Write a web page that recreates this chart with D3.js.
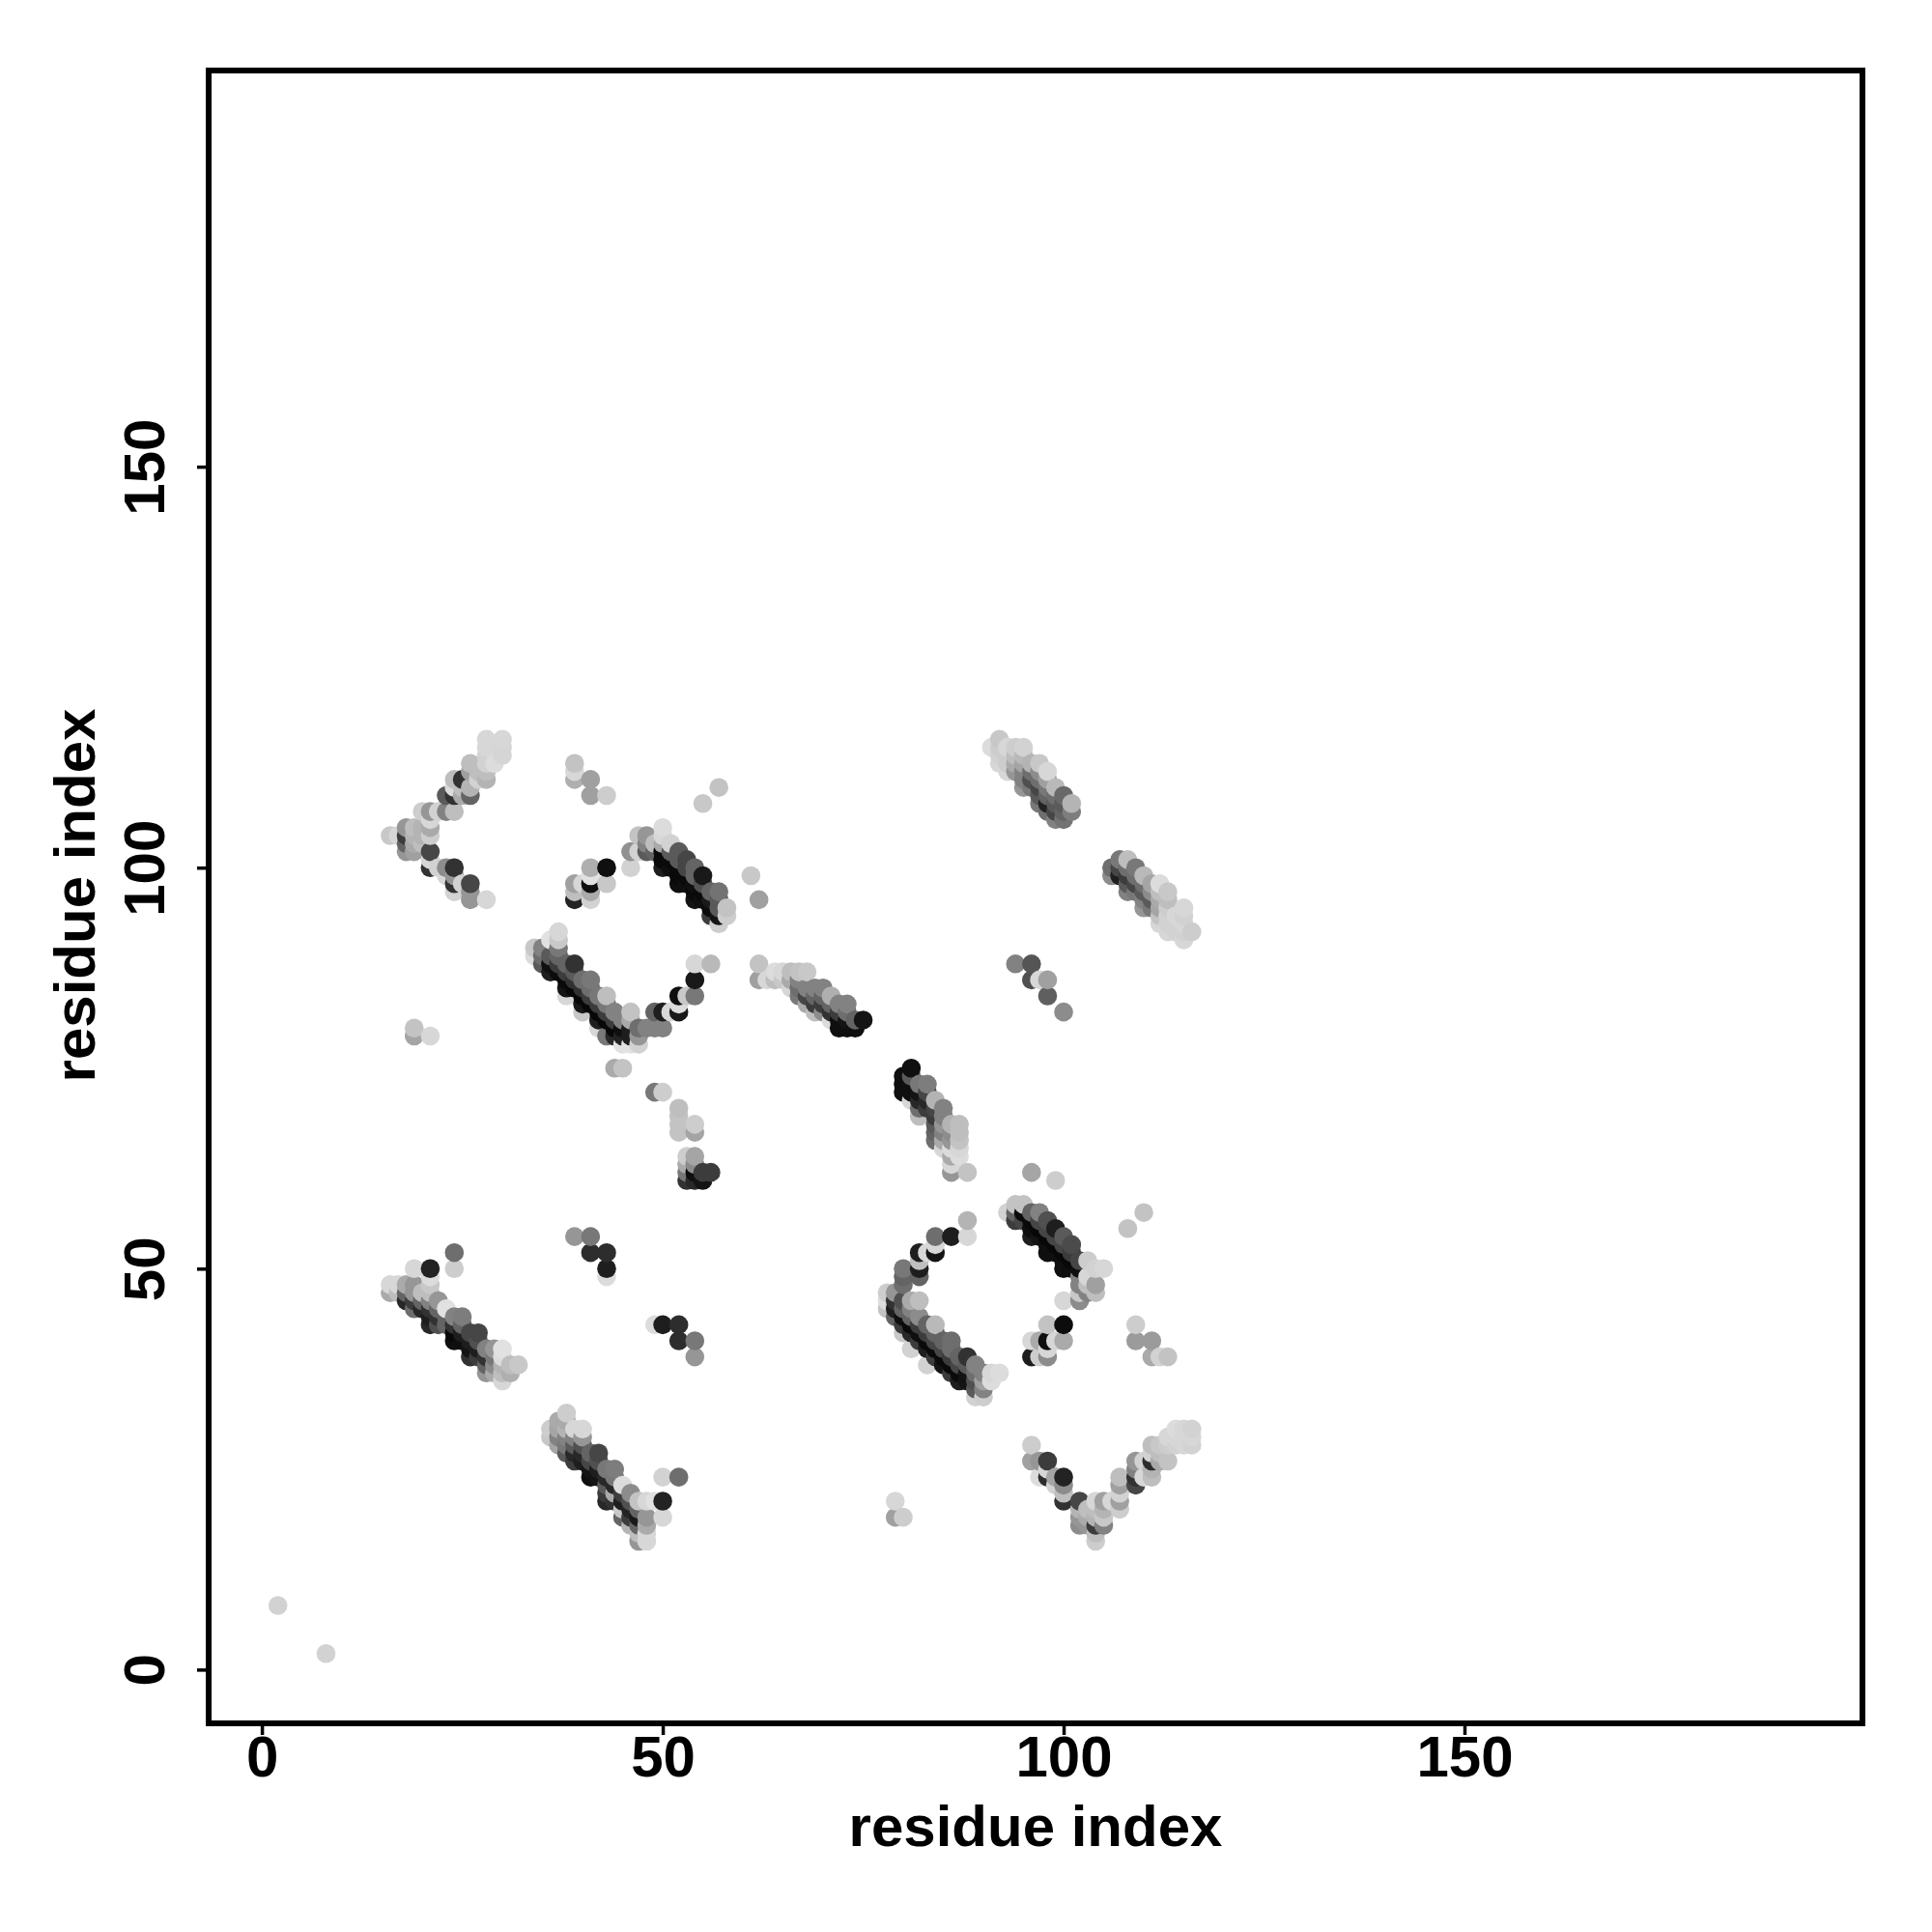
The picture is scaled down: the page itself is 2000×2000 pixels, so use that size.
<!DOCTYPE html>
<html><head><meta charset="utf-8">
<script src="https://cdn.jsdelivr.net/npm/d3@7"></script>
<style>html,body{margin:0;background:#fff}svg{display:block}text{font-family:"Liberation Sans",Arial,sans-serif;font-weight:700;fill:#000}</style>
</head><body><div id="chart"></div>
<script>
// each contact: [residue x, residue y, distance level (0 = strongest/black .. 255 = weakest/white)]
const isolated = [[2,8,210],[8,2,210],[19,79,165],[19,80,195],[21,79,215],[44,75,170],[45,75,195],[49,72,120],[50,72,205],[52,70,190],[52,69,195],[52,68,195],[52,67,195],[54,67,165],[54,68,205],[55,108,200],[57,110,195],[61,99,200],[62,96,160],[79,19,160],[79,21,215],[80,19,205],[94,88,130],[96,88,85],[96,86,80],[97,86,215],[98,86,160],[98,84,95],[100,82,140],[96,62,165],[99,61,205],[108,55,195],[110,57,195],[109,43,205],[109,41,155],[111,41,155],[111,39,170],[112,39,210],[113,39,195],[39,54,150],[41,54,120],[41,52,45],[43,52,45],[43,50,30],[43,49,220],[49,43,220],[50,43,30],[52,43,45],[52,41,45],[54,41,120],[54,39,150]];
const chevronUpperLeft = [[16,104,200],[17,104,215],[18,102,150],[18,103,100],[18,104,60],[18,105,150],[19,102,160],[19,103,170],[19,104,180],[19,105,190],[20,103,190],[20,104,180],[20,105,180],[20,107,205],[21,100,50],[21,101,215],[21,102,70],[21,104,205],[21,105,170],[21,106,215],[21,107,150],[22,100,210],[22,107,210],[23,99,215],[23,100,140],[23,107,130],[23,109,90],[24,97,210],[24,98,50],[24,99,150],[24,100,50],[24,107,190],[24,109,50],[24,110,220],[24,111,190],[25,98,210],[25,109,170],[25,110,190],[25,111,50],[26,96,150],[26,97,150],[26,98,70],[26,109,100],[26,110,180],[26,112,160],[26,113,190],[27,111,210],[27,112,190],[28,111,180],[28,112,190],[28,113,210],[28,114,210],[28,115,215],[28,116,215],[29,113,220],[28,96,215],[30,114,213],[30,115,213],[30,116,215]];
const hairpinUpperMid = [[39,113,195],[39,112,215],[39,111,175],[41,111,160],[41,109,160],[43,109,205],[43,100,15],[41,100,175],[43,98,200],[41,99,225],[41,98,15],[41,97,170],[41,96,210],[39,98,160],[40,98,215],[39,97,190],[39,96,35]];
const strandUpperMid = [[46,100,210],[46,102,145],[47,102,210],[47,104,195],[48,102,90],[48,103,130],[48,104,150],[49,102,100],[49,103,190],[50,100,30],[50,101,10],[50,102,10],[50,103,170],[50,104,215],[50,105,220],[51,100,15],[51,101,10],[51,102,90],[51,103,210],[52,98,15],[52,99,10],[52,100,10],[52,101,90],[52,102,90],[53,98,15],[53,99,10],[53,100,70],[53,101,70],[54,96,20],[54,97,10],[54,98,15],[54,99,100],[54,100,100],[55,96,15],[55,97,10],[55,98,80],[55,99,25],[56,94,60],[56,95,12],[56,96,25],[56,97,100],[57,93,205],[57,94,20],[57,95,90],[57,96,90],[57,97,115],[58,94,205],[58,95,195]];
const strandCentre = [[34,89,220],[34,90,200],[35,88,90],[35,89,110],[35,90,130],[36,87,30],[36,88,15],[36,89,90],[36,91,225],[37,87,12],[37,88,60],[37,89,100],[37,90,120],[37,91,200],[37,92,215],[38,84,215],[38,85,20],[38,86,10],[38,87,60],[38,88,100],[39,85,8],[39,86,50],[39,87,90],[39,88,50],[40,82,200],[40,83,25],[40,84,8],[40,85,50],[40,86,110],[41,83,8],[41,84,60],[41,85,110],[41,86,120],[42,80,215],[42,81,30],[42,82,8],[42,83,60],[42,84,120],[43,79,120],[43,81,8],[43,82,60],[43,83,120],[43,84,190],[44,79,40],[44,80,8],[44,81,60],[44,82,130],[45,78,225],[45,79,35],[45,80,15],[45,81,130],[46,78,225],[46,79,30],[46,80,30],[46,81,170],[46,82,195],[47,78,210],[47,79,150],[47,80,110],[48,80,130],[49,80,130],[49,82,100],[50,80,130],[50,82,30],[51,82,215],[52,82,25],[52,83,220],[52,84,15],[53,84,200],[54,84,120],[54,86,25],[54,88,215],[56,88,185]];
const knotCentre = [[53,61,50],[53,62,120],[53,63,170],[53,64,205],[54,61,40],[54,62,15],[54,63,140],[54,64,165],[55,61,20],[55,62,60],[56,62,60]];
const strandRightOfCentre = [[62,86,160],[62,88,195],[63,86,215],[64,86,190],[64,87,220],[65,86,200],[65,87,215],[66,85,215],[66,86,170],[66,87,190],[67,84,120],[67,85,110],[67,86,130],[67,87,195],[68,83,170],[68,84,70],[68,85,130],[68,87,200],[69,82,190],[69,83,60],[69,84,100],[69,85,130],[70,82,140],[70,83,60],[70,84,100],[70,85,130],[71,81,220],[71,82,50],[71,83,100],[71,84,175],[72,80,15],[72,81,15],[72,82,60],[72,83,130],[73,80,15],[73,81,20],[73,82,110],[73,83,130],[74,80,15],[74,81,100],[75,81,20]];
const strandSteep = [[80,72,15],[80,73,15],[80,74,15],[81,71,215],[81,72,15],[81,73,15],[81,74,90],[81,75,15],[82,69,190],[82,70,110],[82,71,40],[82,72,20],[82,73,120],[83,70,60],[83,71,40],[83,72,70],[83,73,125],[84,66,110],[84,67,100],[84,68,90],[84,69,60],[84,70,70],[84,71,180],[85,65,215],[85,66,170],[85,67,130],[85,68,150],[85,69,130],[85,70,130],[86,62,150],[86,63,215],[86,64,170],[86,65,220],[86,66,150],[86,67,140],[86,68,180],[87,64,220],[87,65,215],[87,66,195],[87,67,190],[87,68,190],[88,62,195]];
const strandUpperRight = [[91,115,220],[92,113,215],[92,114,210],[92,115,205],[92,116,200],[93,112,215],[93,113,205],[93,114,205],[93,115,215],[94,112,150],[94,113,170],[94,114,190],[94,115,205],[95,110,150],[95,111,130],[95,112,130],[95,113,165],[95,114,185],[95,115,210],[96,110,120],[96,111,80],[96,112,110],[96,113,180],[97,108,120],[97,109,90],[97,110,70],[97,111,110],[97,112,140],[97,113,200],[98,107,110],[98,108,35],[98,109,100],[98,110,120],[98,111,160],[98,112,215],[99,106,130],[99,107,70],[99,108,90],[99,109,110],[99,110,185],[100,106,115],[100,107,100],[100,108,90],[100,109,105],[101,107,125],[101,108,180]];
const strandFarRight = [[106,99,140],[106,100,110],[107,99,30],[107,100,70],[107,101,120],[108,97,130],[108,98,90],[108,99,60],[108,100,110],[108,101,190],[109,97,120],[109,98,70],[109,99,110],[109,100,120],[110,95,150],[110,96,130],[110,97,90],[110,98,110],[110,99,185],[111,95,120],[111,96,90],[111,97,140],[111,98,165],[112,93,215],[112,94,195],[112,95,165],[112,96,170],[112,97,190],[112,98,220],[113,92,215],[113,93,210],[113,94,210],[113,95,205],[113,96,190],[113,97,200],[114,92,210],[114,93,210],[114,94,215],[115,91,215],[115,92,210],[115,93,215],[115,94,210],[115,95,215],[116,92,205]];
const strandLowerLeft = [[16,47,170],[16,48,215],[17,47,190],[17,48,215],[18,46,40],[18,47,100],[18,48,170],[19,45,110],[19,46,60],[19,47,150],[19,48,150],[19,50,215],[20,45,40],[20,46,100],[20,47,190],[21,43,40],[21,44,30],[21,45,50],[21,46,130],[21,47,190],[21,48,200],[21,49,220],[21,50,35],[22,43,80],[22,44,50],[22,45,100],[22,46,150],[23,43,100],[23,44,100],[23,45,225],[24,41,15],[24,42,8],[24,43,50],[24,44,130],[24,50,205],[24,52,110],[25,41,15],[25,42,30],[25,43,100],[25,44,125],[26,39,50],[26,40,20],[26,41,30],[26,42,70],[27,39,60],[27,40,30],[27,41,80],[27,42,70],[28,37,150],[28,38,100],[28,39,50],[28,40,130],[29,37,170],[29,38,140],[29,39,120],[29,40,150],[30,36,215],[30,37,190],[30,38,180],[30,39,220],[30,40,225],[31,37,175],[31,38,190],[32,38,200]];
const strandBottomLeft = [[36,29,200],[36,30,205],[37,28,165],[37,29,130],[37,30,165],[37,31,170],[38,27,90],[38,28,120],[38,29,130],[38,30,180],[38,31,170],[38,32,205],[39,26,60],[39,27,40],[39,28,90],[39,29,130],[39,30,215],[40,26,30],[40,27,40],[40,28,80],[40,29,150],[40,30,215],[41,24,15],[41,25,20],[41,26,70],[41,27,100],[42,24,20],[42,25,30],[42,26,80],[42,27,70],[43,21,40],[43,22,60],[43,23,90],[43,24,40],[43,25,120],[44,21,50],[44,22,170],[44,23,40],[44,24,120],[44,25,125],[45,19,100],[45,20,200],[45,21,30],[45,22,60],[45,23,220],[46,18,180],[46,19,60],[46,20,35],[46,21,80],[46,22,140],[47,16,150],[47,17,190],[47,18,100],[47,19,25],[47,20,100],[47,21,195],[48,16,215],[48,17,215],[48,18,170],[48,19,150],[48,21,215],[49,21,225],[50,19,215],[50,21,35],[50,24,210],[52,24,110]];
const chevronLowerRight = [[96,28,205],[96,26,160],[97,24,220],[97,26,150],[98,24,45],[98,25,215],[98,26,60],[99,23,210],[99,24,165],[100,21,50],[100,22,190],[100,23,140],[100,24,35],[102,18,140],[102,19,150],[102,20,180],[102,21,70],[103,18,150],[103,19,170],[103,20,190],[104,16,205],[104,17,190],[104,18,60],[104,19,180],[104,20,190],[104,21,215],[105,18,130],[105,19,200],[105,20,180],[105,21,160],[106,21,215],[107,20,205],[107,21,160],[107,22,210],[107,23,160],[107,24,190],[109,23,70],[109,24,50],[109,25,130],[109,26,150],[110,24,215],[110,26,210],[111,24,190],[111,25,180],[111,26,45],[111,27,210],[111,28,190],[112,26,170],[112,27,190],[112,28,200],[113,26,195],[113,28,205],[113,29,215],[114,28,210],[114,29,215],[114,30,220],[115,28,215],[115,29,215],[115,30,215],[116,28,210],[116,29,215],[116,30,210]];
const strandLowerCentre = [[78,45,195],[78,46,220],[78,47,205],[79,44,100],[79,45,30],[79,46,50],[79,47,150],[80,42,200],[80,43,60],[80,44,15],[80,45,100],[80,46,80],[80,48,110],[80,49,100],[80,50,120],[81,40,210],[81,42,40],[81,43,10],[81,44,100],[81,45,130],[81,46,170],[82,41,60],[82,42,15],[82,43,60],[82,44,140],[82,46,190],[82,49,100],[82,50,30],[82,51,190],[82,52,30],[83,38,210],[83,40,30],[83,41,10],[83,42,60],[83,43,100],[83,52,215],[84,39,60],[84,40,10],[84,41,70],[84,42,100],[84,43,185],[84,52,20],[84,53,215],[84,54,110],[85,38,20],[85,39,10],[85,40,70],[85,41,100],[86,37,60],[86,38,10],[86,39,60],[86,40,110],[86,41,110],[86,54,30],[87,36,30],[87,37,10],[87,38,70],[87,39,100],[88,36,20],[88,37,20],[88,38,90],[88,39,50],[88,54,215],[88,56,180],[89,34,210],[89,35,90],[89,36,80],[89,37,110],[89,38,130],[90,34,205],[90,35,130],[90,36,160],[90,37,130],[91,36,220],[91,37,215],[92,37,220]];
const strandMidRight = [[93,57,210],[94,56,60],[94,57,100],[94,58,195],[95,56,70],[95,57,10],[95,58,195],[96,54,30],[96,55,15],[96,56,10],[96,57,100],[97,54,20],[97,55,8],[97,56,70],[97,57,130],[98,52,15],[98,53,15],[98,54,8],[98,55,70],[98,56,80],[99,52,15],[99,53,8],[99,54,70],[99,55,30],[100,46,215],[100,50,15],[100,51,15],[100,52,8],[100,53,70],[100,54,90],[101,50,15],[101,51,8],[101,52,60],[101,53,75],[102,46,140],[102,47,200],[102,48,130],[102,49,130],[102,50,15],[102,51,70],[103,47,130],[103,48,190],[103,49,215],[103,51,205],[104,47,190],[104,48,160],[104,50,210],[105,50,215]];
const hairpinLowerMid = [[98,43,195],[100,43,12],[100,41,170],[99,41,215],[98,41,15],[97,41,170],[96,41,215],[96,39,30],[97,39,205],[98,40,215],[98,39,140]];

const xTicks = [0,50,100,150];
const yTicks = [0,50,100,150];
const xLimits = [-6.64,199.64];
const yLimits = [-6.7,199.4];
const axisTitle = "residue index";

const contacts = [].concat(isolated,chevronUpperLeft,hairpinUpperMid,strandUpperMid,strandCentre,knotCentre,strandRightOfCentre,strandSteep,strandUpperRight,strandFarRight,strandLowerLeft,strandBottomLeft,chevronLowerRight,strandLowerCentre,strandMidRight,hairpinLowerMid)
  .map(d=>({x:d[0],y:d[1],level:d[2]}))
  .sort((a,b)=>d3.ascending(a.x,b.x)||d3.ascending(a.y,b.y));

const W=2000,H=2000,L=216,R=1928,T=73,B=1784,FS=60;
const svg=d3.select("#chart").append("svg").attr("width",W).attr("height",H).attr("viewBox",`0 0 ${W} ${H}`);
svg.append("rect").attr("width",W).attr("height",H).attr("fill","#fff");
const x=d3.scaleLinear().domain(xLimits).range([L,R]);
const y=d3.scaleLinear().domain(yLimits).range([B,T]);
const shade=d3.scaleLinear().domain([0,255]).range(["#000000","#ffffff"]);

svg.append("g").selectAll("circle").data(contacts).join("circle")
  .attr("cx",d=>x(d.x)).attr("cy",d=>y(d.y)).attr("r",9.8).attr("fill",d=>shade(d.level));

const gx=svg.append("g").attr("transform",`translate(0,${B})`)
  .call(d3.axisBottom(x).tickValues(xTicks).tickSize(12).tickFormat(d3.format("d")));
gx.select(".domain").remove();
gx.selectAll("line").attr("stroke","#000").attr("stroke-width",3.5);
gx.selectAll("text").attr("y",0).attr("dy",null).attr("transform","translate(0,55)").style("font-size",FS+"px").attr("text-anchor","middle");

const gy=svg.append("g").attr("transform",`translate(${L},0)`)
  .call(d3.axisLeft(y).tickValues(yTicks).tickSize(12).tickFormat(d3.format("d")));
gy.select(".domain").remove();
gy.selectAll("line").attr("stroke","#000").attr("stroke-width",3.5);
gy.selectAll("text").attr("x",0).attr("y",0).attr("dy",null).attr("transform","translate(-46,0) rotate(-90)").style("font-size",FS+"px").attr("text-anchor","middle");

svg.append("rect").attr("x",L).attr("y",T).attr("width",R-L).attr("height",B-T).attr("fill","none").attr("stroke","#000").attr("stroke-width",6);

svg.append("text").attr("x",1072).attr("y",1911).attr("text-anchor","middle").style("font-size",FS+"px").text(axisTitle);
svg.append("text").attr("transform","translate(98,927) rotate(-90)").attr("text-anchor","middle").style("font-size",FS+"px").text(axisTitle);
</script></body></html>
